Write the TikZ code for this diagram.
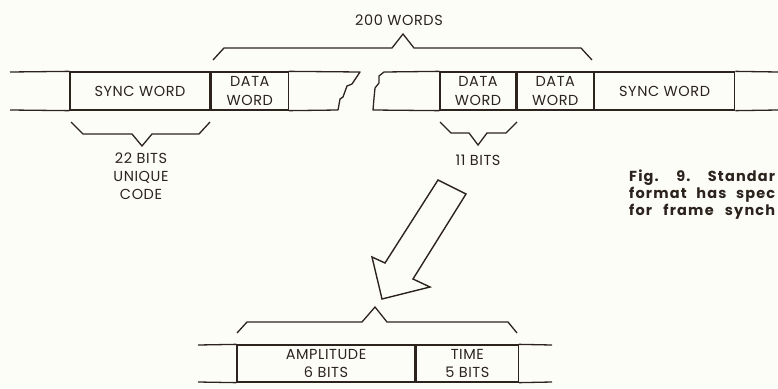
\documentclass[tikz,border=0pt]{standalone}
\usepackage{fontspec}
\usepackage{xcolor}
\usetikzlibrary{positioning}
\newfontfamily\labelfont{Poppins}[LetterSpace=4]
\newfontfamily\capfont{Poppins}[LetterSpace=8]
\definecolor{Ink}{HTML}{2B231C}
\definecolor{Paper}{HTML}{FDFDF8}

\tikzset{
  cell/.style={draw=Ink,line width=1.3pt,minimum height=38pt,inner sep=0pt,
    text=Ink,align=center,font=\labelfont\fontsize{14.5}{18.5}\selectfont},
  lbl/.style={inner sep=0pt,text=Ink,align=center,font=\labelfont\fontsize{14.5}{18}\selectfont},
  rule/.style={draw=Ink,line width=1.3pt},
  brace/.style={draw=Ink,line width=1.3pt,line join=miter},
  caption/.style={inner sep=0pt,anchor=base west,text=Ink,font=\capfont\bfseries\fontsize{14.5}{17}\selectfont}
}

\begin{document}
\begin{tikzpicture}[x=1pt,y=-1pt]
  \fill[Paper] (0,0) rectangle (778,388);
  \useasboundingbox (0,0) rectangle (778,388);

  % frame of words
  \node[cell,minimum width=140pt] (sync1) at (140,91) {SYNC WORD};
  \node[cell,minimum width=77pt,right=0pt of sync1] (data1) {DATA\\WORD};
  \node[cell,minimum width=76pt] (data2) at (478,91) {DATA\\WORD};
  \node[cell,minimum width=76pt,right=0pt of data2] (data3) {DATA\\WORD};
  \node[cell,minimum width=140pt,right=0pt of data3] (sync2) {SYNC WORD};

  \coordinate (leftT) at (10,72);
  \coordinate (leftB) at (10,110);
  \coordinate (rightT) at (778,72);
  \coordinate (rightB) at (778,110);
  \draw[rule] (leftT) -- (sync1.north west);
  \draw[rule] (leftB) -- (sync1.south west);
  \draw[rule] (sync2.north east) -- (rightT);
  \draw[rule] (sync2.south east) -- (rightB);

  % torn ends
  \draw[rule,line join=round] (data1.north east) -- (360,72) -- (352,84) -- (347,86)
    -- (343,97) -- (340,99) -- (338,110) -- (data1.south east);
  \draw[rule,line join=round] (data2.north west) -- (384,72) -- (379,76) -- (379,83)
    -- (375,88) -- (374,98) -- (373,110) -- (data2.south west);

  % braces
  \draw[brace] (213,60) -- (224,48) -- (392,48) -- (403,34) -- (414,48) -- (581,48) -- (592,60);
  \node[lbl] (words) at (399,20) {200 WORDS};
  \draw[brace] (71,122) -- (83,134) -- (132,134) -- (142,146) -- (152,134) -- (199,134) -- (210,122);
  \node[lbl,anchor=north] (unique) at (141,153) {22 BITS\\UNIQUE\\CODE};
  \draw[brace] (440,122) -- (451,133) -- (469,133) -- (478,145) -- (487,133) -- (506,133) -- (517,122);
  \node[lbl] (bits) at (478,160) {11 BITS};

  % caption
  \node[caption] (cap1) at (629,181) {\makebox[146pt][s]{Fig. 9. Standar}};
  \node[caption] (cap2) at (629,198) {\makebox[146pt][s]{format has spec}};
  \node[caption] (cap3) at (629,215) {\makebox[146pt][s]{for frame synch}};

  % hollow arrow
  \draw[Ink,line width=1.4pt,line join=miter,fill=Paper]
    (438,180) -- (466,194) -- (413,279) -- (430,287) -- (382,299) -- (372,257) -- (385,263) -- cycle;

  % data word bits
  \draw[brace] (237,333) -- (247,322) -- (362,322) -- (375,307) -- (387,322) -- (508,322) -- (517,333);
  \node[cell,minimum width=178pt,minimum height=37pt] (amp) at (326,363.5) {AMPLITUDE\\6 BITS};
  \node[cell,minimum width=102pt,minimum height=37pt,right=0pt of amp] (time) {TIME\\5 BITS};
  \coordinate (lowLT) at (198,345);
  \coordinate (lowLB) at (198,382);
  \coordinate (lowRT) at (552,345);
  \coordinate (lowRB) at (552,382);
  \draw[rule] (lowLT) -- (amp.north west);
  \draw[rule] (lowLB) -- (amp.south west);
  \draw[rule] (time.north east) -- (lowRT);
  \draw[rule] (time.south east) -- (lowRB);
\end{tikzpicture}
\end{document}
